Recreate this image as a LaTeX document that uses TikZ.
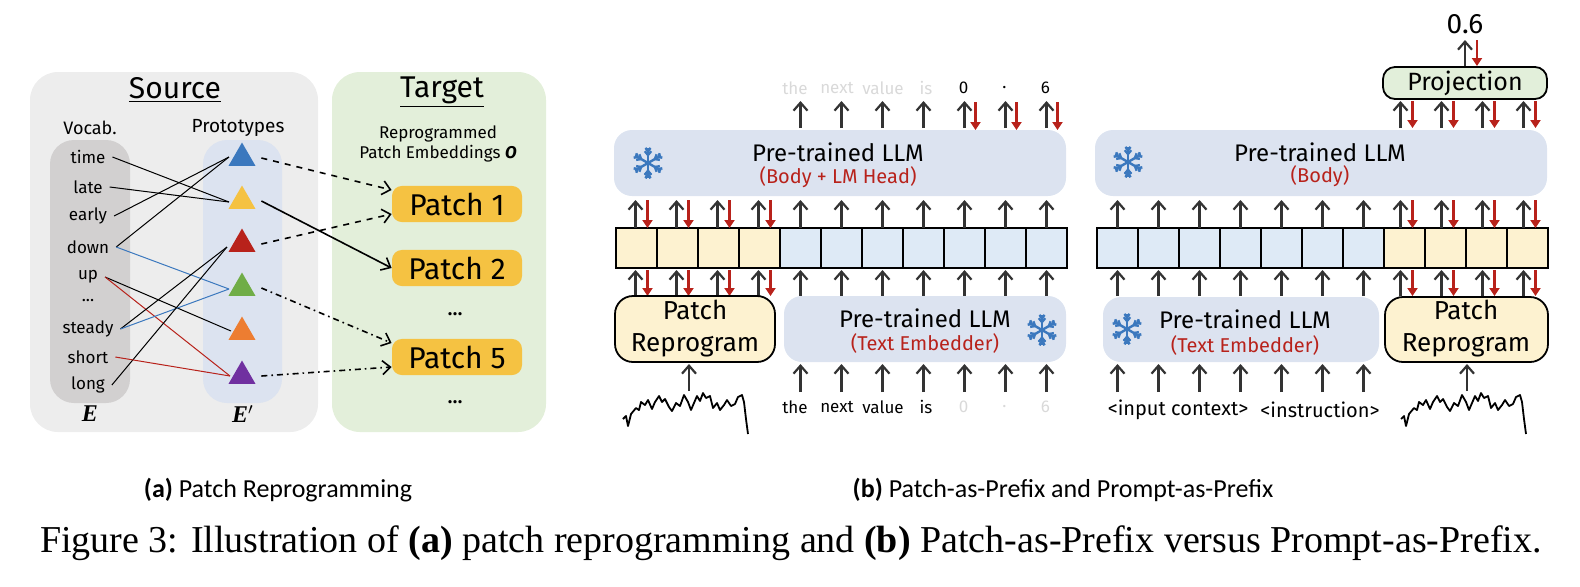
\documentclass[tikz,border=0pt]{standalone}
\usepackage{fontspec}
\setmainfont{Liberation Serif}
\newfontfamily\dsans{Carlito}
\newfontfamily\csans{Fira Sans}
\usetikzlibrary{arrows.meta,shapes.geometric}
\definecolor{pgray}{HTML}{EDEDED}
\definecolor{vgray}{HTML}{D2D0D0}
\definecolor{lblue}{HTML}{DCE3F0}
\definecolor{tgreen}{HTML}{E3EFDA}
\definecolor{porange}{HTML}{F5C242}
\definecolor{cblue}{HTML}{DEEAF6}
\definecolor{cyel}{HTML}{FDF2D0}
\definecolor{dred}{HTML}{B8221B}
\definecolor{pgreen}{HTML}{E2EFDA}
\definecolor{fgray}{HTML}{D9D9D9}
\definecolor{sflake}{HTML}{3B78BE}
\definecolor{tgr}{HTML}{70AD47}
\definecolor{tor}{HTML}{ED7D31}
\definecolor{tpu}{HTML}{7030A0}
\tikzset{
 up/.style={line width=1.1pt,draw=black!80,-{Straight Barb[length=4pt,width=7pt]}},
 dn/.style={line width=1.1pt,draw=dred,-{Triangle[length=4pt,width=5pt]}},
 panel/.style={rounded corners=14pt,draw=none},
 box/.style={rounded corners=9pt,draw=none,fill=lblue},
 ybox/.style={rounded corners=9pt,draw=black,line width=0.9pt,fill=cyel},
 cell/.style={draw=black,line width=0.9pt},
 word/.style={font=\csans\fontsize{8.5}{9}\selectfont},
 tok/.style={font=\csans\fontsize{8.5}{9}\selectfont},
 big/.style={font=\csans\fontsize{12}{13}\selectfont},
 sub/.style={font=\csans\fontsize{10}{11}\selectfont,text=dred},
 tri/.style={regular polygon,regular polygon sides=3,minimum size=15.5pt,inner sep=0},
 patch/.style={rounded corners=5pt,fill=porange,minimum width=65pt,minimum height=18pt,font=\csans\fontsize{15}{16}\selectfont},
 ar/.style={line width=0.8pt,-{Straight Barb[length=4pt,width=7pt]}},
 flake/.pic={\begin{scope}[sflake,line width=1.2pt]
   \foreach \a in {90,150,...,450}{\draw (0,0)--(\a:15);
    \draw (\a:8)--++(\a+40:5) (\a:8)--++(\a-40:5);
    \draw (\a:12)--++(\a+40:4) (\a:12)--++(\a-40:4);}
   \end{scope}},
}
\begin{document}
\begin{tikzpicture}[x=0.5pt,y=-0.5pt]
\useasboundingbox (0,0) rectangle (1580,586);
% ---------- (a)
\fill[pgray,panel] (30,72) rectangle (318,432);
\fill[tgreen,panel] (332,72) rectangle (546,432);
\fill[vgray,rounded corners=12pt] (50,140) rectangle (130,403);
\fill[lblue,rounded corners=12pt] (203,140) rectangle (282,403);
\node[font=\csans\fontsize{15}{16}\selectfont] (src) at (175,90) {\underline{Source}};
\node[font=\csans\fontsize{15}{16}\selectfont] (tgt) at (442,92) {\underline{Target}};
\node[font=\csans\fontsize{9}{10}\selectfont] (voc) at (90,128) {Vocab.};
\node[font=\csans\fontsize{9.5}{10}\selectfont] (pro) at (238,128) {Prototypes};
\node[font=\csans\fontsize{8.5}{10}\selectfont,align=center] (rep) at (438,144) {Reprogrammed\\[0pt]Patch Embeddings \textbf{\textit{O}}};
\node[font=\bfseries\itshape\fontsize{12}{12}\selectfont] (E) at (90,414) {E};
\node[font=\bfseries\itshape\fontsize{12}{12}\selectfont] (Ep) at (243,414) {E$'$};
\foreach \n/\w/\y in {wt/time/157,wl/late/187,we/early/216,wd/down/247,wu/up/277,ws/steady/329,wsh/short/357,wlo/long/385}
  \node[word] (\n) at (88,\y) {\w};
\node[word] (wx) at (88,301) {...};
\foreach \n/\c/\y in {t1/sflake/158,t2/porange/201,t3/dred/244,t4/tgr/288,t5/tor/332,t6/tpu/376}
  \node[tri,fill=\c] (\n) at (242,\y) {};
\coordinate (p1) at (229,157); \coordinate (p2) at (229,202); \coordinate (p3) at (227,247);
\coordinate (p4) at (229,289); \coordinate (p5) at (231,331); \coordinate (p6) at (230,376);
\begin{scope}[line width=0.5pt]
\draw (wt.east) -- (p2); \draw (wl.east) -- (p2);
\draw (we.east) -- (p1); \draw (wd.east) -- (p1);
\draw[sflake] (wd.east) -- (p4); \draw (wu.east) -- (p5);
\draw[dred] (wu.east) -- (p6); \draw (ws.east) -- (p3);
\draw[sflake] (ws.east) -- (p4); \draw (wlo.east) -- (p3);
\draw[dred] (wsh.east) -- (p6);
\end{scope}
\node[patch] (P1) at (457,204) {Patch 1};
\node[patch] (P2) at (457,268) {Patch 2};
\node[patch] (P5) at (457,357) {Patch 5};
\node[font=\bfseries] (d1) at (455,314) {...};
\node[font=\bfseries] (d2) at (455,402) {...};
\draw[ar,dashed] ([xshift=5]t1.east) -- ([yshift=7]P1.west);
\draw[ar,dashed] ([xshift=5]t3.east) -- ([yshift=-5]P1.west);
\draw[ar] ([xshift=5]t2.east) -- (P2.west);
\draw[ar,dash dot] ([xshift=5]t4.east) -- ([yshift=7]P5.west);
\draw[ar,dash dot] ([xshift=5]t6.east) -- ([yshift=-5]P5.west);
% ---------- (b) middle
\fill[box] (614,130) rectangle (1066,196);
\pic at (648,163) {flake};
\node[big] (l1) at (838,152) {Pre-trained LLM};
\node[sub] (l1b) at (838,177) {(Body + LM Head)};
\foreach \i in {0,...,10}{
  \pgfmathsetmacro\xa{616+41*\i}
  \ifnum\i<4 \def\cc{cyel}\else\def\cc{cblue}\fi
  \draw[cell,fill=\cc] (\xa,228) rectangle ++(41,40);
  \pgfmathsetmacro\cx{\xa+20.5}
  \ifnum\i<4
    \draw[up] (\cx-1,228) -- (\cx-1,200); \draw[dn] (\cx+11,200) -- (\cx+11,228);
    \draw[up] (\cx-1,296) -- (\cx-1,270); \draw[dn] (\cx+11,270) -- (\cx+11,296);
  \else
    \draw[up] (\cx,228) -- (\cx,200);
    \draw[up] (\cx,296) -- (\cx,270);
    \draw[up] (\cx,128) -- (\cx,101);
    \draw[up] (\cx,392) -- (\cx,364);
  \fi
  \ifnum\i>7 \draw[dn] (\cx+11,102) -- (\cx+11,130); \fi
}
\draw[ybox] (615,296) rectangle (775,362);
\node[font=\csans\fontsize{13}{16}\selectfont,align=center] (pr1) at (695,329) {Patch\\Reprogram};
\fill[box] (784,296) rectangle (1066,362);
\node[big] (l2) at (925,318) {Pre-trained LLM};
\node[sub] (l2b) at (925,343) {(Text Embedder)};
\pic at (1042,330) {flake};
\draw[up] (689,391) -- (689,364);
\foreach \w/\x in {the/795,next/837,value/883,is/926}{
  \node[tok,text=fgray] at (\x,88) {\w};
  \node[tok] at (\x,407) {\w};}
\foreach \w/\x in {0/963.5,{.}/1004.5,6/1045.5}{
  \node[tok] at (\x,88) {\w};
  \node[tok,text=fgray] at (\x,407) {\w};}
\begin{scope}[shift={(0,24)}]
\draw[line width=0.9pt,line join=round] (623,395) -- (626,392) -- (628,402) -- (631,390) -- (636,384) -- (639,386) -- (641,378) -- (645,381) -- (648,376) -- (652,385) -- (655,378) -- (659,372) -- (662,378) -- (665,375) -- (669,383) -- (672,387) -- (676,379) -- (680,382) -- (684,371) -- (688,378) -- (691,386) -- (694,379) -- (697,372) -- (700,377) -- (703,369) -- (706,374) -- (710,372) -- (713,384) -- (717,379) -- (720,386) -- (724,381) -- (727,376) -- (731,382) -- (735,380) -- (738,373) -- (742,371) -- (744,378) -- (746,395) -- (748,410);
\end{scope}
% ---------- (b) right
\fill[box] (1095,130) rectangle (1547,196);
\pic at (1128,162) {flake};
\node[big] (l3) at (1320,152) {Pre-trained LLM};
\node[sub] (l3b) at (1320,176) {(Body)};
\foreach \i in {0,...,10}{
  \pgfmathsetmacro\xa{1097+41*\i}
  \ifnum\i>6 \def\cc{cyel}\else\def\cc{cblue}\fi
  \draw[cell,fill=\cc] (\xa,228) rectangle ++(41,40);
  \pgfmathsetmacro\cx{\xa+20.5}
  \ifnum\i>6
    \draw[up] (\cx-4,228) -- (\cx-4,200); \draw[dn] (\cx+8,200) -- (\cx+8,228);
    \draw[up] (\cx-4,296) -- (\cx-4,270); \draw[dn] (\cx+8,270) -- (\cx+8,296);
    \draw[up] (\cx-4,128) -- (\cx-4,101); \draw[dn] (\cx+8,101) -- (\cx+8,128);
  \else
    \draw[up] (\cx,228) -- (\cx,200);
    \draw[up] (\cx,296) -- (\cx,270);
    \draw[up] (\cx,392) -- (\cx,364);
  \fi
}
\fill[box] (1103,297) rectangle (1379,362);
\pic at (1127,329) {flake};
\node[big] (l4) at (1245,319) {Pre-trained LLM};
\node[sub] (l4b) at (1245,345) {(Text Embedder)};
\draw[ybox] (1385,297) rectangle (1548,362);
\node[font=\csans\fontsize{13}{16}\selectfont,align=center] (pr2) at (1466,329) {Patch\\Reprogram};
\draw[up] (1467,391) -- (1467,364);
\draw[rounded corners=6pt,draw=black,line width=0.9pt,fill=pgreen] (1383,67) rectangle (1547,99);
\node[font=\csans\fontsize{12.5}{13}\selectfont] (proj) at (1465,83) {Projection};
\node[font=\csans\fontsize{14}{15}\selectfont] (out) at (1465,24) {0.6};
\draw[up] (1465,66) -- (1465,40); \draw[dn] (1477,40) -- (1477,66);
\node[font=\csans\fontsize{10}{11}\selectfont] (ic) at (1178,410) {<input context>};
\node[font=\csans\fontsize{10}{11}\selectfont] (ins) at (1320,410) {<instruction>};
\begin{scope}[shift={(778,24)}]
\draw[line width=0.9pt,line join=round] (623,395) -- (626,392) -- (628,402) -- (631,390) -- (636,384) -- (639,386) -- (641,378) -- (645,381) -- (648,376) -- (652,385) -- (655,378) -- (659,372) -- (662,378) -- (665,375) -- (669,383) -- (672,387) -- (676,379) -- (680,382) -- (684,371) -- (688,378) -- (691,386) -- (694,379) -- (697,372) -- (700,377) -- (703,369) -- (706,374) -- (710,372) -- (713,384) -- (717,379) -- (720,386) -- (724,381) -- (727,376) -- (731,382) -- (735,380) -- (738,373) -- (742,371) -- (744,378) -- (746,395) -- (748,410);
\end{scope}
% ---------- captions
\node[font=\dsans\fontsize{13}{14}\selectfont] (ca) at (278,490) {\textbf{(a)} Patch Reprogramming};
\node[font=\dsans\fontsize{13}{14}\selectfont] (cb) at (1063,490) {\textbf{(b)} Patch-as-Prefix and Prompt-as-Prefix};
\node[font=\fontsize{19}{20}\selectfont] (fig) at (791,543) {Figure 3: Illustration of \textbf{(a)} patch reprogramming and \textbf{(b)} Patch-as-Prefix versus Prompt-as-Prefix.};
\end{tikzpicture}
\end{document}
